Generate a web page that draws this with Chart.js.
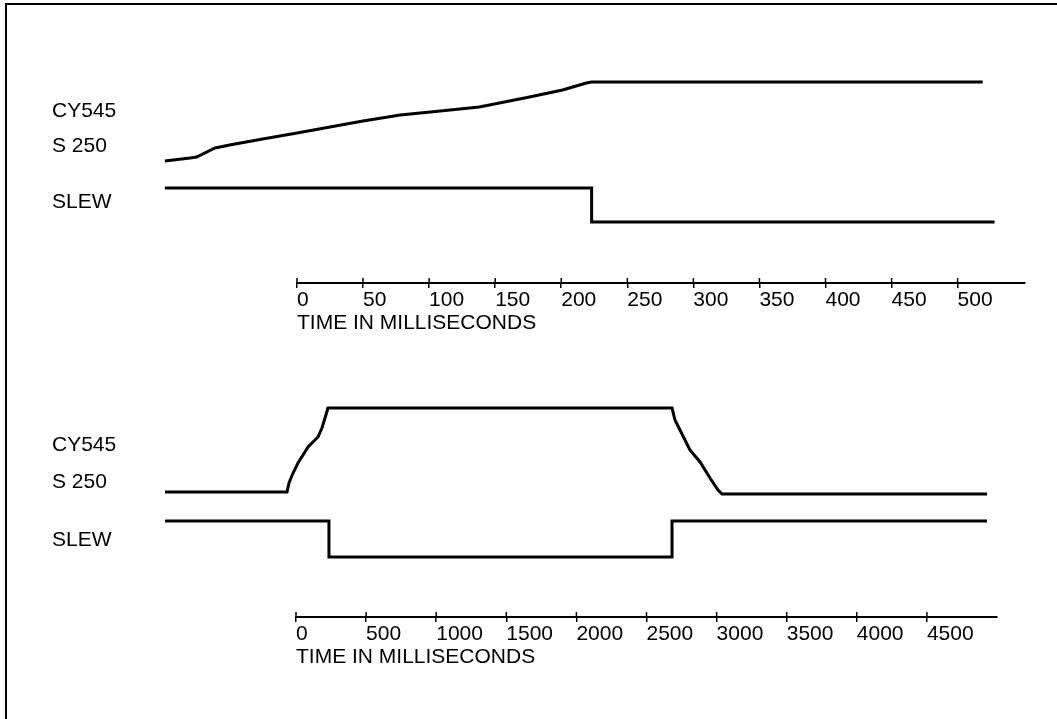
<!DOCTYPE html>
<html>
<head>
<meta charset="utf-8">
<script src="https://cdn.jsdelivr.net/npm/chart.js@4"></script>
<style>
  body { margin: 0; background: #fff; width: 1057px; height: 719px; position: relative; overflow: hidden; }
  .frame { position: absolute; left: 5px; top: 3px; width: 1060px; height: 730px; border-top: 2px solid #000; border-left: 2px solid #000; }
  canvas { position: absolute; left: 0; }
  .lbl { position: absolute; left: 52px; font: 21px "Liberation Sans", Arial, sans-serif; line-height: 21px; color: #000; white-space: nowrap; }
</style>
</head>
<body>
<div class="frame"></div>
<canvas id="topChart" width="1057" height="340" style="top:0"></canvas>
<canvas id="bottomChart" width="1057" height="379" style="top:340px"></canvas>
<div class="lbl" style="top:99px">CY545</div>
<div class="lbl" style="top:134px">S 250</div>
<div class="lbl" style="top:190px">SLEW</div>
<div class="lbl" style="top:433px">CY545</div>
<div class="lbl" style="top:470px">S 250</div>
<div class="lbl" style="top:528px">SLEW</div>
<script>
// Datos (tiempo en ms, nivel en unidades arbitrarias)
const axisTitle = 'TIME IN MILLISECONDS';

const topTicks = [0, 50, 100, 150, 200, 250, 300, 350, 400, 450, 500];
const topRange = [0, 551];
const topCyTime = [-100, -81, -76, -62, -51, -26, 0, 25, 50, 78, 101, 138, 176, 201, 219, 223, 519];
const topCyLevel = [12.2, 12.5, 12.6, 13.5, 13.8, 14.4, 15.0, 15.6, 16.2, 16.8, 17.1, 17.6, 18.6, 19.3, 20.0, 20.1, 20.1];
const topSlewTime = [-100, 223, 223, 528];
const topSlewLevel = [9.5, 9.5, 6.1, 6.1];

const bottomTicks = [0, 500, 1000, 1500, 2000, 2500, 3000, 3500, 4000, 4500];
const bottomRange = [0, 5000];
const bottomCyTime = [-934, -64, -50, -21, 14, 50, 86, 121, 157, 185, 207, 228, 2682, 2703, 2739, 2810, 2882, 2953, 3010, 3039, 4929];
const bottomCyLevel = [12.5, 12.5, 13.4, 14.4, 15.4, 16.2, 17.0, 17.5, 18.0, 18.9, 19.9, 20.9, 20.9, 19.7, 18.7, 16.7, 15.5, 13.9, 12.7, 12.3, 12.3];
const bottomSlewTime = [-934, 235, 235, 2682, 2682, 4929];
const bottomSlewLevel = [9.6, 9.6, 6.0, 6.0, 9.6, 9.6];

Chart.defaults.font.family = '"Liberation Sans", Arial, sans-serif';
Chart.defaults.font.size = 21;
Chart.defaults.color = '#000';

// Marcas de las divisiones hacia arriba del eje (Chart.js solo las dibuja hacia abajo)
const upTicks = {
  id: 'upTicks',
  afterDraw(chart) {
    const sx = chart.scales.x;
    const ctx = chart.ctx;
    ctx.save();
    ctx.strokeStyle = '#000';
    ctx.lineWidth = 1.5;
    sx.ticks.forEach(t => {
      const px = sx.getPixelForValue(t.value);
      ctx.beginPath();
      ctx.moveTo(px, sx.top - 5);
      ctx.lineTo(px, sx.top);
      ctx.stroke();
    });
    ctx.restore();
  }
};

function trace(times, levels) {
  return {
    data: times.map((t, i) => ({ x: t, y: levels[i] })),
    borderColor: '#000',
    borderWidth: 3,
    borderJoinStyle: 'miter',
    pointRadius: 0,
    tension: 0,
    clip: false,
  };
}

function createPanel(id, ticks, range, cyTime, cyLevel, slewTime, slewLevel, padding) {
  const ctx = document.getElementById(id).getContext('2d');
  return new Chart(ctx, {
    type: 'line',
    data: {
      datasets: [trace(cyTime, cyLevel), trace(slewTime, slewLevel)],
    },
    options: {
      responsive: false,
      animation: false,
      layout: { padding: padding },
      plugins: {
        legend: { display: false },
        tooltip: { enabled: false },
      },
      scales: {
        x: {
          type: 'linear',
          bounds: 'data',
          afterDataLimits: s => { s.min = range[0]; s.max = range[1]; },
          afterBuildTicks: s => { s.ticks = ticks.map(v => ({ value: v })); },
          border: { display: true, color: '#000', width: 2 },
          grid: { drawOnChartArea: false, drawTicks: true, tickLength: 5, color: '#000', lineWidth: 1.5 },
          ticks: {
            align: 'start', padding: 2, maxRotation: 0, autoSkip: false, font: { lineHeight: 1 },
            callback: v => String(v),
          },
          title: { display: true, text: axisTitle, align: 'start', padding: { top: 0, bottom: 2 }, font: { lineHeight: 1 } },
        },
        y: { display: false, min: 0, max: 22 },
      },
    },
    plugins: [upTicks],
  });
}

createPanel('topChart', topTicks, topRange, topCyTime, topCyLevel, topSlewTime, topSlewLevel,
  { top: 63, left: 297, right: 32, bottom: 4 });
createPanel('bottomChart', bottomTicks, bottomRange, bottomCyTime, bottomCyLevel, bottomSlewTime, bottomSlewLevel,
  { top: 57, left: 296, right: 60, bottom: 49 });
</script>
</body>
</html>
